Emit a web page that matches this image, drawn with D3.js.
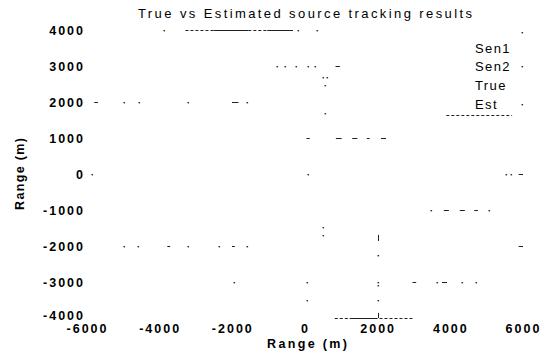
<!DOCTYPE html>
<html><head><meta charset="utf-8">
<script src="https://cdn.jsdelivr.net/npm/d3@7"></script>
<style>
html,body{margin:0;padding:0;background:#fff;}
text{font-family:"Liberation Sans",Arial,sans-serif;fill:#000;}
</style></head>
<body>
<svg id="chart" width="550" height="358"></svg>
<script>
// ---- data (data units: metres) ----
const xTicks = [-6000, -4000, -2000, 0, 2000, 4000, 6000];
const yTicks = [4000, 3000, 2000, 1000, 0, -1000, -2000, -3000, -4000];
const legendLabels = ["Sen1", "Sen2", "True", "Est"];
const titleText = "True vs Estimated source tracking results";
const xLabel = "Range (m)";
const yLabel = "Range (m)";

// visible fragments of the traces
const solidRuns = [   // [y, x0, x1]
  [4000, -2520, -1560], [4000, -1040, -330],
  [-4000, 1230, 2000],
  [3000, 840, 960],
  [2000, -5800, -5700], [2000, -2010, -1830],
  [1000, 40, 130], [1000, 850, 1010], [1000, 1300, 1440], [1000, 1700, 1780], [1000, 2090, 2230],
  [0, 5880, 6000],
  [-1000, 3820, 3960], [-1000, 4260, 4400], [-1000, 4660, 4760],
  [-2000, -3790, -3710], [-2000, -2010, -1930], [-2000, 5880, 6000],
  [-3000, 2960, 3060], [-3000, 3770, 3910]
];
const dottedRuns = [  // [y, x0, x1]
  [4000, -3290, -2520], [4000, -1560, -1040],
  [-4000, 820, 1230], [-4000, 2050, 3010],
  [1640, 3890, 5700]
];
const vRuns = [       // [x, y0, y1]
  [2000, -1690, -1860], [2000, -3860, -4000]
];
const dots = [        // [x, y]
  [-3890, 4000], [-200, 4000], [330, 4000], [5970, 3940],
  [-770, 3000], [-550, 3000], [-250, 3000], [80, 3000], [270, 3000], [5970, 3000],
  [490, 2690], [600, 2690], [550, 2470],
  [-4990, 2000], [-4580, 2000], [-3230, 2000], [-1590, 2000], [5970, 1940], [550, 1690],
  [-5860, 0], [80, 0], [5530, 0], [5670, 0],
  [3480, -1000], [5070, -1000],
  [490, -1470], [490, -1690],
  [2000, -2250], [2000, -3000], [2000, -3080], [2000, -3500],
  [-4990, -2000], [-4600, -2000], [-3230, -2000], [-2380, -2000], [-1590, -2000],
  [-1950, -3000], [55, -3000], [3620, -3000], [4330, -3000], [4710, -3000],
  [55, -3500]
];

// ---- drawing ----
const svg = d3.select("#chart");
const x = d3.scaleLinear().domain([-6000, 6000]).range([87, 523]);
const y = d3.scaleLinear().domain([-4000, 4000]).range([318, 30]);
const ink = "#222";

const g = svg.append("g");

g.selectAll("line.solid").data(solidRuns).join("line")
  .attr("x1", d => x(d[1])).attr("x2", d => x(d[2]))
  .attr("y1", d => Math.round(y(d[0])) + 0.5).attr("y2", d => Math.round(y(d[0])) + 0.5)
  .attr("stroke", ink).attr("stroke-width", 1);

g.selectAll("line.dotted").data(dottedRuns).join("line")
  .attr("x1", d => x(d[1])).attr("x2", d => x(d[2]))
  .attr("y1", d => Math.round(y(d[0])) + 0.5).attr("y2", d => Math.round(y(d[0])) + 0.5)
  .attr("stroke", ink).attr("stroke-width", 1).attr("stroke-dasharray", "3,2");

g.selectAll("line.v").data(vRuns).join("line")
  .attr("x1", d => Math.round(x(d[0])) + 0.5).attr("x2", d => Math.round(x(d[0])) + 0.5)
  .attr("y1", d => y(d[1])).attr("y2", d => y(d[2]))
  .attr("stroke", ink).attr("stroke-width", 1);

g.selectAll("rect.dot").data(dots).join("rect")
  .attr("x", d => Math.round(x(d[0])) - 0.5).attr("y", d => Math.round(y(d[1])))
  .attr("width", 1.6).attr("height", 1.4).attr("fill", "#333");

// axes (labels only, no lines)
const xAxis = svg.append("g").attr("transform", "translate(0,318)")
  .call(d3.axisBottom(x).tickValues(xTicks).tickSize(0).tickPadding(6.5).tickFormat(d => String(d)));
const yAxis = svg.append("g").attr("transform", "translate(86,0)")
  .call(d3.axisLeft(y).tickValues(yTicks).tickSize(0).tickPadding(1).tickFormat(d => String(d)));
[xAxis, yAxis].forEach(a => {
  a.select(".domain").remove();
  a.selectAll("text").attr("font-size", 12.5).attr("font-weight", "bold")
    .style("letter-spacing", "2px").attr("fill", "#000");
});
// the lowest y label sits a touch higher so it clears the first x label
yAxis.selectAll(".tick").filter(d => d === -4000).select("text").attr("dy", "0.12em");

// title
svg.append("text").attr("x", 305).attr("y", 18).attr("text-anchor", "middle")
  .attr("font-size", 13).attr("textLength", 334).attr("lengthAdjust", "spacing")
  .text(titleText);

// axis titles
svg.append("text").attr("x", 307).attr("y", 348).attr("text-anchor", "middle")
  .attr("font-size", 12.5).attr("font-weight", "bold")
  .attr("textLength", 80).attr("lengthAdjust", "spacing").text(xLabel);
svg.append("text").attr("transform", "translate(24,174) rotate(-90)").attr("text-anchor", "middle")
  .attr("font-size", 12.5).attr("font-weight", "bold")
  .attr("textLength", 72).attr("lengthAdjust", "spacing").text(yLabel);

// legend labels
const legY = [53, 71, 90, 109];
svg.append("g").selectAll("text").data(legendLabels).join("text")
  .attr("x", 475).attr("y", (d, i) => legY[i])
  .attr("font-size", 13).style("letter-spacing", "1.4px")
  .text(d => d);
</script>
</body></html>
